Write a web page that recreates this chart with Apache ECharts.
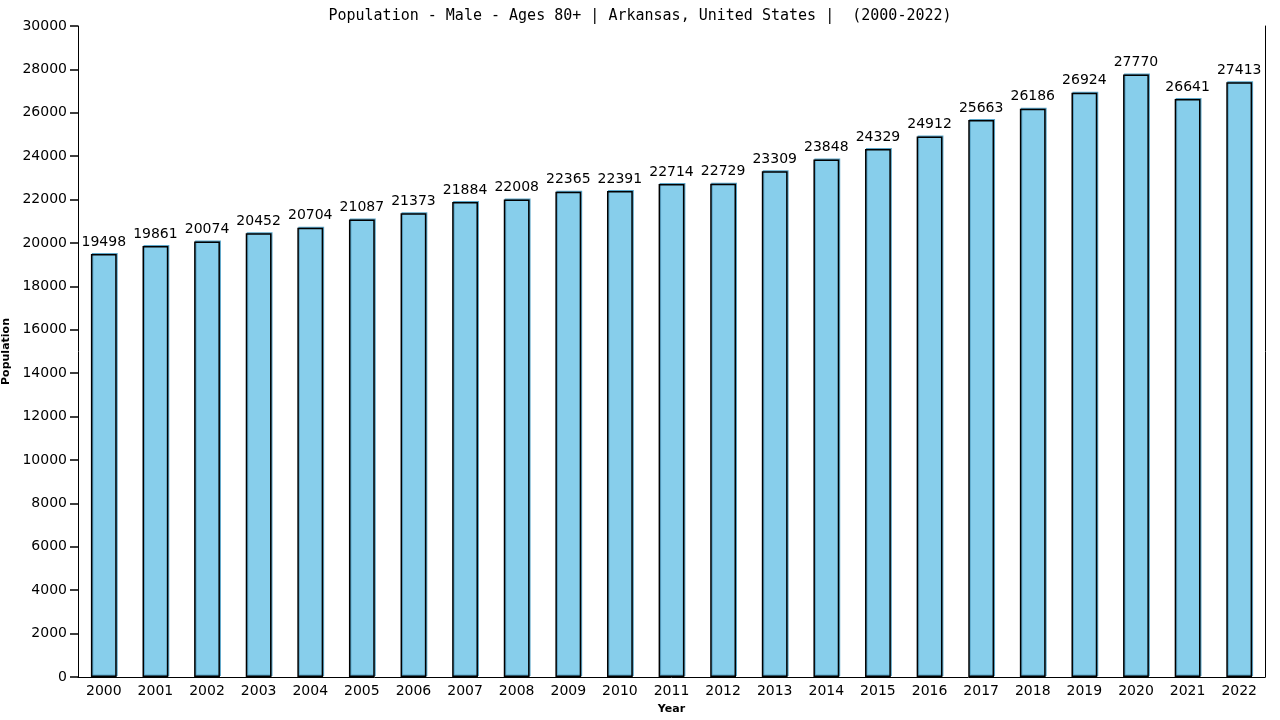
<!DOCTYPE html>
<html>
<head>
<meta charset="utf-8">
<script src="https://cdn.jsdelivr.net/npm/echarts@6/dist/echarts.min.js"></script>
<style>
  html, body { margin: 0; padding: 0; background: #fff; }
  #chart { width: 1280px; height: 720px; }
</style>
</head>
<body>
<div id="chart"></div>
<script>
const years = ['2000', '2001', '2002', '2003', '2004', '2005', '2006', '2007', '2008', '2009', '2010', '2011',
  '2012', '2013', '2014', '2015', '2016', '2017', '2018', '2019', '2020', '2021', '2022'];
const population = [19498, 19861, 20074, 20452, 20704, 21087, 21373, 21884, 22008, 22365, 22391, 22714,
  22729, 23309, 23848, 24329, 24912, 25663, 26186, 26924, 27770, 26641, 27413];

const chart = echarts.init(document.getElementById('chart'));
chart.setOption({
  animation: false,
  title: {
    text: 'Population - Male - Ages 80+ | Arkansas, United States |  (2000-2022)',
    left: 'center',
    top: 4,
    textStyle: { fontFamily: 'DejaVu Sans Mono', fontSize: 15, fontWeight: 'normal', color: '#000' },
  },
  grid: { left: 78, right: 15, top: 26, bottom: 43, outerBoundsMode: 'none', containLabel: false },
  xAxis: {
    type: 'category',
    data: years,
    name: 'Year',
    nameLocation: 'middle',
    nameGap: 27,
    nameTextStyle: { fontFamily: 'DejaVu Sans', fontSize: 11, fontWeight: 'bold', color: '#000' },
    axisLine: { lineStyle: { color: '#000', width: 1 } },
    axisTick: { show: false },
    axisLabel: { color: '#000', fontFamily: 'DejaVu Sans', fontSize: 14, margin: 7 },
  },
  yAxis: [
    {
      type: 'value',
      min: 0,
      max: 30000,
      interval: 2000,
      position: 'left',
      name: 'Population',
      nameLocation: 'middle',
      nameGap: 58,
      nameTextStyle: { fontFamily: 'DejaVu Sans', fontSize: 11, fontWeight: 'bold', color: '#000' },
      axisLine: { show: true, onZero: false, lineStyle: { color: '#000', width: 1 } },
      axisTick: { show: true, length: 8, inside: false, lineStyle: { color: '#000', width: 1.5 } },
      axisLabel: { color: '#000', fontFamily: 'DejaVu Sans', fontSize: 14, margin: 11, formatter: (v) => String(v) },
      splitLine: { show: false },
    },
    {
      type: 'value',
      min: 0,
      max: 30000,
      interval: 2000,
      position: 'right',
      axisLine: { show: true, onZero: false, lineStyle: { color: '#000', width: 1 } },
      axisTick: { show: false },
      axisLabel: { show: false },
      splitLine: { show: false },
    },
  ],
  series: [
    {
      type: 'bar',
      data: population,
      barWidth: '50%',
      itemStyle: {
        color: '#87CEEB',
        borderColor: '#000',
        borderWidth: 1.5,
        shadowColor: '#5aa5c8',
        shadowBlur: 0,
        shadowOffsetX: 1,
        shadowOffsetY: -1,
      },
      label: {
        show: true,
        position: 'top',
        distance: 5,
        color: '#000',
        fontFamily: 'DejaVu Sans',
        fontSize: 14,
      },
    },
  ],
});
</script>
</body>
</html>
